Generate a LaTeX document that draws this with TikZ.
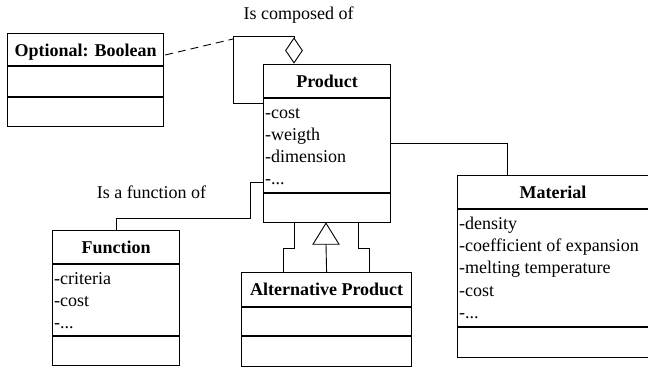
\documentclass[tikz,border=0pt]{standalone}
\usepackage{fontspec}
\setmainfont{Liberation Serif}
\usetikzlibrary{calc,shapes.geometric}
\begin{document}
\begin{tikzpicture}[x=1pt,y=-1pt,
  font=\fontsize{18}{22}\selectfont,
  classbox/.style={draw, line width=1.2pt, anchor=north west, inner sep=0pt},
  divider/.style={line width=1.2pt},
  conn/.style={line width=0.9pt},
  hdr/.style={font=\fontsize{18}{22}\selectfont\bfseries, anchor=base, inner sep=0pt},
  attr/.style={anchor=base west, inner sep=0pt},
  lbl/.style={anchor=base, inner sep=0pt}]
\useasboundingbox (0,0) rectangle (648,368);

% Optional: Boolean
\node[classbox, minimum width=156pt, minimum height=93pt] (opt) at (7,33) {};
\node[hdr] (optH) at ($(opt.north)+(0,23)$) {Optional: Boolean};
\draw[divider] ($(opt.north west)+(0,33)$) -- ($(opt.north east)+(0,33)$);
\draw[divider] ($(opt.north west)+(0,64)$) -- ($(opt.north east)+(0,64)$);

% Product
\node[classbox, minimum width=127pt, minimum height=158pt] (prod) at (263,64) {};
\node[hdr] (prodH) at ($(prod.north)+(0,23)$) {Product};
\draw[divider] ($(prod.north west)+(0,34)$) -- ($(prod.north east)+(0,34)$);
\draw[divider] ($(prod.north west)+(0,129)$) -- ($(prod.north east)+(0,129)$);
\node[attr] (p1) at ($(prod.north west)+(2,54)$) {-cost};
\node[attr] (p2) at ($(prod.north west)+(2,76)$) {-weigth};
\node[attr] (p3) at ($(prod.north west)+(2,98)$) {-dimension};
\node[attr] (p4) at ($(prod.north west)+(2,120)$) {-...};

% Function
\node[classbox, minimum width=127pt, minimum height=135pt] (fun) at (52,230) {};
\node[hdr] (funH) at ($(fun.north)+(0,23)$) {Function};
\draw[divider] ($(fun.north west)+(0,34)$) -- ($(fun.north east)+(0,34)$);
\draw[divider] ($(fun.north west)+(0,106)$) -- ($(fun.north east)+(0,106)$);
\node[attr] (f1) at ($(fun.north west)+(2,54)$) {-criteria};
\node[attr] (f2) at ($(fun.north west)+(2,76)$) {-cost};
\node[attr] (f3) at ($(fun.north west)+(2,98)$) {-...};

% Alternative Product
\node[classbox, minimum width=170pt, minimum height=94pt] (alt) at (241,272) {};
\node[hdr] (altH) at ($(alt.north)+(0,23)$) {Alternative Product};
\draw[divider] ($(alt.north west)+(0,35)$) -- ($(alt.north east)+(0,35)$);
\draw[divider] ($(alt.north west)+(0,64)$) -- ($(alt.north east)+(0,64)$);

% Material
\node[classbox, minimum width=193pt, minimum height=182pt] (mat) at (457,175) {};
\node[hdr] (matH) at ($(mat.north west)+(96,23)$) {Material};
\draw[divider] ($(mat.north west)+(0,34)$) -- ($(mat.north east)+(0,34)$);
\draw[divider] ($(mat.north west)+(0,152)$) -- ($(mat.north east)+(0,152)$);
\node[attr] (m1) at ($(mat.north west)+(2,54)$) {-density};
\node[attr] (m2) at ($(mat.north west)+(2,76)$) {-coefficient of expansion};
\node[attr] (m3) at ($(mat.north west)+(2,98)$) {-melting temperature};
\node[attr] (m4) at ($(mat.north west)+(2,121)$) {-cost};
\node[attr] (m5) at ($(mat.north west)+(2,143)$) {-...};

% Composition (aggregation) loop
\node[draw, diamond, line width=0.9pt, fill=white, inner sep=0pt,
      minimum width=17pt, minimum height=25pt] (dia) at ($(prod.north west)+(31,-13.5)$) {};
\coordinate (loopTL) at (233,36);
\draw[conn] ($(prod.north west)+(0,39)$) -| (loopTL) -| (dia.north);
\draw[conn, dashed, dash pattern=on 8pt off 5pt] ($(opt.north east)+(1,22)$) -- ($(loopTL)+(0,3)$);
\node[lbl] (compL) at (298.5,19) {Is composed of};

% Function connector
\draw[conn] ($(prod.north west)+(0,118)$) -- ++(-13,0) |- ($(fun.north)+(0,-12)$) -- (fun.north);
\node[lbl] (funL) at (151.5,198) {Is a function of};

% Material connector
\draw[conn] ($(prod.north east)+(0,79)$) -| ($(mat.north west)+(50,0)$);

% Inheritance
\coordinate (triA) at ($(prod.south west)+(63,0)$);
\draw[conn, fill=white] (triA) -- ++(-13,21) -- ++(26,0) -- cycle;
\draw[conn] ($(triA)+(0,21)$) -- (alt.north);
\draw[conn] ($(prod.south west)+(31,0)$) -- ++(0,25) -| ($(alt.north west)+(42,0)$);
\draw[conn] ($(prod.south west)+(95,0)$) -- ++(0,25) -| ($(alt.north west)+(128,0)$);
\end{tikzpicture}
\end{document}
